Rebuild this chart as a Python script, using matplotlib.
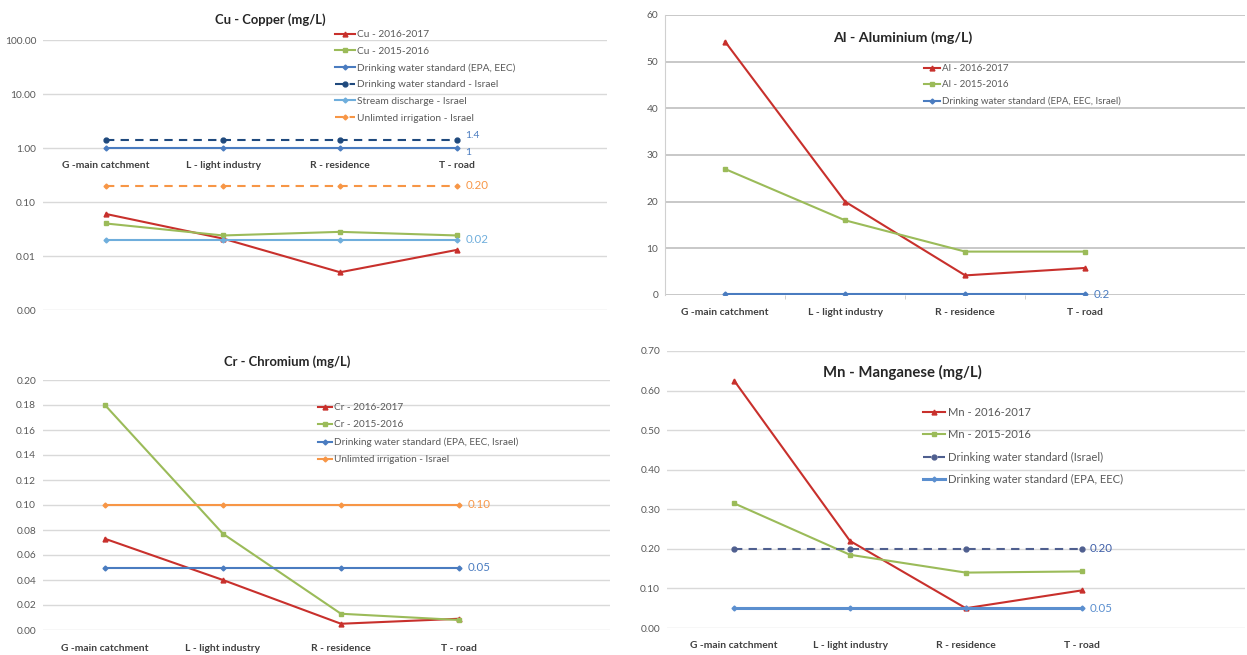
import matplotlib
matplotlib.use("Agg")
from matplotlib import pyplot as plt
from matplotlib.ticker import FixedLocator, FuncFormatter

plt.rcParams['font.family'] = ['Lato', 'DejaVu Sans']

W, H = 1247, 655

sites = ["G -main catchment", "L - light industry", "R - residence", "T - road"]

# Cu (log scale)
cu_1617 = [0.06, 0.021, 0.005, 0.013]
cu_1516 = [0.04, 0.024, 0.028, 0.024]
cu_drink_epa = [1.0, 1.0, 1.0, 1.0]
cu_drink_il = [1.4, 1.4, 1.4, 1.4]
cu_stream = [0.02, 0.02, 0.02, 0.02]
cu_irrig = [0.2, 0.2, 0.2, 0.2]
cu_ticks = [0.001, 0.01, 0.1, 1, 10, 100]

# Al
al_1617 = [54.3, 20.0, 4.2, 5.8]
al_1516 = [27.0, 16.0, 9.3, 9.3]
al_drink = [0.2, 0.2, 0.2, 0.2]
al_ticks = [0, 10, 20, 30, 40, 50, 60]

# Cr
cr_1617 = [0.073, 0.040, 0.005, 0.009]
cr_1516 = [0.180, 0.077, 0.013, 0.008]
cr_drink = [0.05, 0.05, 0.05, 0.05]
cr_irrig = [0.10, 0.10, 0.10, 0.10]
cr_ticks = [0.00, 0.02, 0.04, 0.06, 0.08, 0.10, 0.12, 0.14, 0.16, 0.18, 0.20]

# Mn
mn_1617 = [0.625, 0.22, 0.05, 0.095]
mn_1516 = [0.315, 0.185, 0.14, 0.143]
mn_drink_il = [0.20, 0.20, 0.20, 0.20]
mn_drink_epa = [0.05, 0.05, 0.05, 0.05]
mn_ticks = [0.0, 0.1, 0.2, 0.3, 0.4, 0.5, 0.6, 0.7]

RED = "#C8302C"
GREEN = "#9BBB59"
BLUE = "#4A7CC0"
DBLUE = "#1F497D"
LBLUE = "#6FAEDC"
ORANGE = "#F79646"
GRID = "#D9D9D9"
TXT = "#595959"

fig = plt.figure(figsize=(W / 100, H / 100), dpi=100)


def axes_px(left, top, right, bottom):
    return fig.add_axes([left / W, 1 - bottom / H, (right - left) / W, (bottom - top) / H])


def style(ax, ticks, fmt, xlim, pad):
    x = range(len(sites))
    ax.set_xlim(*xlim)
    ax.set_xticks(list(x))
    ax.set_xticklabels(sites, fontsize=7.4, fontweight="bold", color="#404040")
    ax.yaxis.set_major_locator(FixedLocator(ticks))
    ax.yaxis.set_major_formatter(FuncFormatter(fmt))
    ax.tick_params(axis="y", length=0, labelsize=7.3, labelcolor=TXT, pad=5)
    ax.tick_params(axis="x", length=0, pad=pad)
    ax.yaxis.grid(True, color=GRID, lw=1)
    ax.set_axisbelow(True)
    for s in ax.spines.values():
        s.set_visible(False)


def legend(ax, x, y, spacing, size, hl):
    ax.legend(loc="upper left", bbox_to_anchor=(x / W, 1 - y / H), bbox_transform=fig.transFigure,
              frameon=False, fontsize=size, labelcolor=TXT, handlelength=hl, handletextpad=0.2,
              labelspacing=spacing, borderpad=0, borderaxespad=0)


def label(ax, val, text, color, dy=0, size=8.3):
    ax.annotate(text, xy=(3, val), xytext=(6, dy), textcoords="offset points",
                va="center", ha="left", fontsize=size, color=color)


x = list(range(len(sites)))

# ---- Cu ----
ax = axes_px(43, 40, 607, 310)
ax.set_yscale("log")
ax.set_ylim(0.001, 100)
ax.spines["bottom"].set_position(("data", 1.0))
ax.plot(x, cu_1617, color=RED, lw=1.5, marker="^", ms=3.5, label="Cu - 2016-2017")
ax.plot(x, cu_1516, color=GREEN, lw=1.5, marker="s", ms=3.5, label="Cu - 2015-2016")
ax.plot(x, cu_drink_epa, color=BLUE, lw=1.5, marker="D", ms=2.5, label="Drinking water standard (EPA, EEC)")
ax.plot(x, cu_drink_il, color=DBLUE, lw=1.5, ls=(0, (4, 3)), marker="o", ms=3.5,
        label="Drinking water standard - Israel")
ax.plot(x, cu_stream, color=LBLUE, lw=1.5, marker="D", ms=2.5, label="Stream discharge - Israel")
ax.plot(x, cu_irrig, color=ORANGE, lw=1.5, ls=(0, (4, 3)), marker="D", ms=2.5,
        label="Unlimted irrigation - Israel")
style(ax, cu_ticks, lambda v, p: "%.2f" % v, (-0.538, 4.28), 9)
ax.yaxis.set_minor_locator(FixedLocator([]))
label(ax, 1.4, "1.4", BLUE, dy=3, size=7.5)
label(ax, 1.0, "1", BLUE, dy=-3.5, size=7.5)
label(ax, 0.2, "0.20", ORANGE)
label(ax, 0.02, "0.02", LBLUE)
legend(ax, 335, 30, 0.74, 7.3, 2.0)
fig.text(270 / W, 1 - 20 / H, "Cu - Copper (mg/L)", ha="center", va="center",
         fontsize=9.4, fontweight="bold", color="#262626")

# ---- Al ----
ax = axes_px(665, 15, 1245, 295)
ax.set_ylim(0, 60)
ax.plot(x, al_1617, color=RED, lw=1.5, marker="^", ms=3.5, label="Al - 2016-2017")
ax.plot(x, al_1516, color=GREEN, lw=1.5, marker="s", ms=3.5, label="Al - 2015-2016")
ax.plot(x, al_drink, color=BLUE, lw=1.5, marker="D", ms=2.5, label="Drinking water standard (EPA, EEC, Israel)")
style(ax, al_ticks, lambda v, p: "%d" % v, (-0.5, 4.33), 9.5)
ax.yaxis.grid(True, color="#C8C8C8", lw=1.4)
ax.spines["left"].set_visible(True)
ax.spines["left"].set_color("#D0D0D0")
ax.set_xticks([0.5, 1.5, 2.5], minor=True)
ax.tick_params(axis="x", which="minor", length=3, color="#C8C8C8")
label(ax, 0.2, "0.2", BLUE)
legend(ax, 924, 64, 0.75, 7.0, 1.6)
fig.text(903 / W, 1 - 38 / H, "Al - Aluminium (mg/L)", ha="center", va="center",
         fontsize=10.3, fontweight="bold", color="#262626")

# ---- Cr ----
ax = axes_px(43, 380, 610, 630)
ax.set_ylim(0, 0.20)
ax.plot(x, cr_1617, color=RED, lw=1.5, marker="^", ms=3.5, label="Cr - 2016-2017")
ax.plot(x, cr_1516, color=GREEN, lw=1.5, marker="s", ms=3.5, label="Cr - 2015-2016")
ax.plot(x, cr_drink, color=BLUE, lw=1.5, marker="D", ms=2.5, label="Drinking water standard (EPA, EEC, Israel)")
ax.plot(x, cr_irrig, color=ORANGE, lw=1.5, marker="D", ms=2.5, label="Unlimted irrigation - Israel")
style(ax, cr_ticks, lambda v, p: "%.2f" % v, (-0.525, 4.28), 10)
label(ax, 0.10, "0.10", ORANGE)
label(ax, 0.05, "0.05", BLUE)
legend(ax, 318, 403, 0.83, 7.2, 1.4)
fig.text(287 / W, 1 - 362 / H, "Cr - Chromium (mg/L)", ha="center", va="center",
         fontsize=9.4, fontweight="bold", color="#262626")

# ---- Mn ----
ax = axes_px(667, 351, 1245, 628)
ax.set_ylim(0, 0.70)
ax.plot(x, mn_1617, color=RED, lw=1.5, marker="^", ms=3.5, label="Mn - 2016-2017")
ax.plot(x, mn_1516, color=GREEN, lw=1.5, marker="s", ms=3.5, label="Mn - 2015-2016")
ax.plot(x, mn_drink_il, color="#4F5F8F", lw=1.5, ls=(0, (4, 3)), marker="o", ms=3.5,
        label="Drinking water standard (Israel)")
ax.plot(x, mn_drink_epa, color="#5B8FCF", lw=2.2, marker="D", ms=2.5, label="Drinking water standard (EPA, EEC)")
style(ax, mn_ticks, lambda v, p: "%.2f" % v, (-0.58, 4.41), 9.5)
label(ax, 0.20, "0.20", "#3F5FA8")
label(ax, 0.05, "0.05", "#5B8FCF")
legend(ax, 923, 407, 1.0, 8.1, 2.0)
fig.text(902 / W, 1 - 372 / H, "Mn - Manganese (mg/L)", ha="center", va="center",
         fontsize=10.7, fontweight="bold", color="#262626")

plt.savefig("out.png", dpi=100)
